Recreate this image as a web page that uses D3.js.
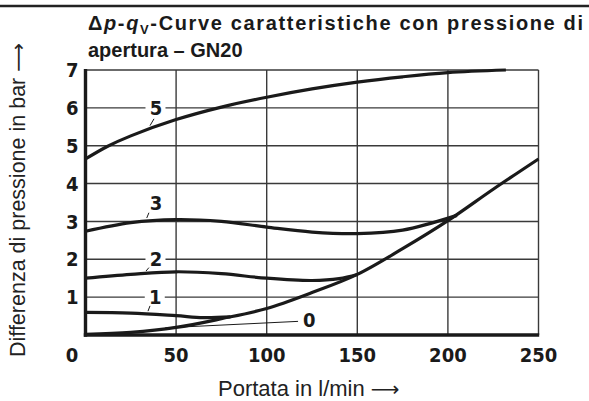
<!DOCTYPE html>
<html><head><meta charset="utf-8">
<script src="https://cdn.jsdelivr.net/npm/d3@7"></script>
<style>body{margin:0;background:#fff}svg{display:block}</style>
</head><body><svg id="c" width="589" height="401"></svg>
<script>
// ---- data ----
const xTicks = [0, 50, 100, 150, 200, 250];
const yTicks = [1, 2, 3, 4, 5, 6, 7];
const curve0 = [[0,0.02],[25,0.07],[50,0.2],[75,0.43],[100,0.7],[125,1.12],[150,1.6],[175,2.28],[200,3.02],[225,3.85],[250,4.65]];
const curve1 = [[0,0.6],[25,0.58],[50,0.51],[65,0.46],[80,0.48]];
const curve2 = [[0,1.5],[25,1.6],[50,1.67],[75,1.62],[100,1.5],[125,1.44],[140,1.49],[150,1.6]];
const curve3 = [[0,2.74],[25,2.97],[50,3.05],[75,3.0],[100,2.85],[125,2.72],[150,2.68],[175,2.77],[205,3.16]];
const curve5 = [[0,4.65],[12,4.98],[25,5.26],[50,5.69],[75,6.02],[100,6.28],[125,6.5],[150,6.68],[175,6.82],[200,6.93],[232,7.0]];
const curves = [curve0, curve1, curve2, curve3, curve5];
const curveLabels = ["0", "1", "2", "3", "5"];
// label anchor (data units) and leader line endpoints (data units)
const labelPos = [[123.5,0.40],[38.5,1.0],[38.9,2.0],[38.9,3.49],[38.9,6.0]];
const leaders = [[[44,0.19],[117.3,0.36]],[[35.6,0.77],[34.5,0.63]],[[35,1.78],[33.4,1.69]],[[35,3.23],[33.8,3.09]],[[37.8,5.71],[35.6,5.53]]];
const labelGap = [false, true, true, false, true];

// ---- chart ----
const svg = d3.select("#c");
const x = d3.scaleLinear().domain([0,250]).range([85.5,538.5]);
const y = d3.scaleLinear().domain([0,7]).range([335,70]);

// top rule
svg.append("line").attr("x1",0).attr("x2",589).attr("y1",6).attr("y2",6).attr("stroke","#222").attr("stroke-width",2.6);

// grid
const g = svg.append("g");
g.selectAll(".vg").data(xTicks.slice(1)).join("line")
  .attr("x1",d=>x(d)).attr("x2",d=>x(d)).attr("y1",y(7)).attr("y2",y(0))
  .attr("stroke","#3a3a3a").attr("stroke-width",1.4);
g.selectAll(".hg").data(yTicks).join("line")
  .attr("x1",x(0)).attr("x2",x(250)).attr("y1",d=>y(d)).attr("y2",d=>y(d))
  .attr("stroke","#3a3a3a").attr("stroke-width",1.4);

// label gaps in grid lines
labelPos.forEach((p,i)=>{
  if(labelGap[i]) svg.append("rect").attr("x",x(p[0])-10.5).attr("y",y(p[1])-9).attr("width",20).attr("height",18).attr("fill","#fff");
});

// curves
const line = d3.line().x(d=>x(d[0])).y(d=>y(d[1])).curve(d3.curveCatmullRom.alpha(0.5));
svg.selectAll(".crv").data(curves).join("path")
  .attr("d",line).attr("fill","none").attr("stroke","#1a1a1a").attr("stroke-width",3.2).attr("stroke-linecap","butt");

// axes lines (thick)
svg.append("line").attr("x1",x(0)).attr("x2",x(0)).attr("y1",y(7)-1).attr("y2",y(0)+1.7).attr("stroke","#1a1a1a").attr("stroke-width",3.4);
svg.append("line").attr("x1",x(0)-1.7).attr("x2",x(250)+0.7).attr("y1",y(0)).attr("y2",y(0)).attr("stroke","#1a1a1a").attr("stroke-width",3.4);

// leaders
svg.selectAll(".ld").data(leaders).join("line")
  .attr("x1",d=>x(d[0][0])).attr("y1",d=>y(d[0][1])).attr("x2",d=>x(d[1][0])).attr("y2",d=>y(d[1][1]))
  .attr("stroke","#1a1a1a").attr("stroke-width",1);

// curve labels
svg.selectAll(".cl").data(curveLabels).join("text")
  .attr("x",(d,i)=>x(labelPos[i][0])).attr("y",(d,i)=>y(labelPos[i][1]))
  .attr("dy","0.36em").attr("text-anchor","middle")
  .attr("font-family","DejaVu Sans Condensed").attr("font-weight","bold").attr("font-size",20).attr("fill","#1a1a1a")
  .text(d=>d);

// tick labels
const tickFont = s=>s.attr("font-family","DejaVu Sans Condensed").attr("font-weight","bold").attr("font-size",20).attr("fill","#1a1a1a");
svg.selectAll(".yt").data(yTicks).join("text")
  .attr("x",78.5).attr("y",d=>y(d)).attr("dy","0.36em").attr("text-anchor","end").text(d=>d).call(tickFont);
svg.selectAll(".xt").data(xTicks).join("text")
  .attr("x",d=>d===0?72:x(d)).attr("y",361.5).attr("text-anchor","middle").text(d=>d).call(tickFont);

// title
const title = svg.append("text").attr("x",88).attr("y",30).attr("font-family","Liberation Sans, Arial").attr("font-weight","bold").attr("font-size",20).attr("fill","#1a1a1a")
  .attr("textLength",495).attr("lengthAdjust","spacing");
title.append("tspan").text("Δ");
title.append("tspan").attr("font-style","italic").text("p");
title.append("tspan").text("-");
title.append("tspan").attr("font-style","italic").text("q");
title.append("tspan").attr("font-size",13).attr("dy",4).text("V");
title.append("tspan").attr("dy",-4).text("-Curve caratteristiche con pressione di");
svg.append("text").attr("x",88).attr("y",57).attr("font-family","Liberation Sans, Arial").attr("font-weight","bold").attr("font-size",20).attr("fill","#1a1a1a").text("apertura – GN20");

// axis titles
const xl = svg.append("text").attr("x",218).attr("y",396).attr("font-family","Liberation Sans, Arial").attr("font-size",22).attr("fill","#222");
xl.append("tspan").text("Portata in l/min ");
xl.append("tspan").attr("font-family","DejaVu Sans").attr("font-size",20).text("⟶");
const yl = svg.append("text").attr("transform","translate(25,357) rotate(-90)").attr("font-family","Liberation Sans, Arial").attr("font-size",21.5).attr("fill","#222");
yl.append("tspan").text("Differenza di pressione in bar ");
yl.append("tspan").attr("font-family","DejaVu Sans").attr("font-size",20).text("⟶");
</script></body></html>
